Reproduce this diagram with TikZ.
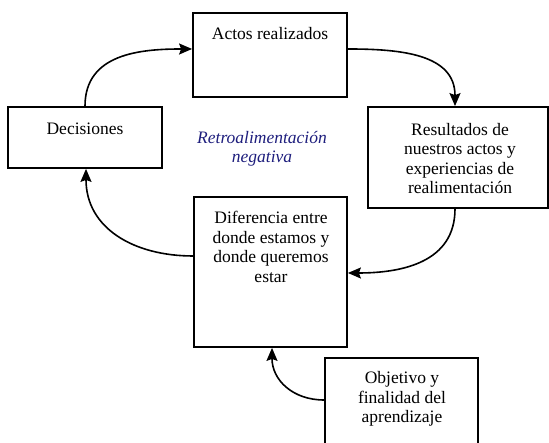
\documentclass[tikz,border=0pt]{standalone}
\usepackage{fontspec}
\setmainfont{Liberation Serif}
\usetikzlibrary{arrows.meta}
\definecolor{navyt}{RGB}{30,30,125}
\begin{document}
\begin{tikzpicture}[x=1pt,y=1pt,
  box/.style={draw=black,line width=1.8pt,rectangle,inner sep=0pt},
  txt/.style={align=center,inner sep=0pt,font=\fontsize{17.5}{19.5}\selectfont},
  conn/.style={line width=1.6pt,-{Stealth[length=13pt,width=11pt,inset=2pt]}}]
\useasboundingbox (0,0) rectangle (549,443);
% boxes
\node[box,minimum width=154pt,minimum height=84pt] (act) at (270,388) {};
\node[box,minimum width=154pt,minimum height=61pt] (dec) at (85,305.5) {};
\node[box,minimum width=180pt,minimum height=101pt] (res) at (458,285.5) {};
\node[box,minimum width=153pt,minimum height=150pt] (dif) at (270.5,171) {};
\node[box,minimum width=153pt,minimum height=92pt] (obj) at (401.5,39) {};
% texts
\node[txt] (actT) at (270,409) {Actos realizados};
\node[txt] (decT) at (85,314) {Decisiones};
\node[txt] (resT) at (460,284.5) {Resultados de\\nuestros actos y\\experiencias de\\realimentación};
\node[txt] (difT) at (271,196) {Diferencia entre\\donde estamos y\\donde queremos\\estar};
\node[txt] (objT) at (402,44) {Objetivo y\\finalidad del\\aprendizaje};
\node[txt,text=navyt,font=\fontsize{17.5}{19.5}\selectfont\itshape] (retro) at (262,294) {Retroalimentación\\negativa};
% connectors
\draw[conn] (dec.north) to[out=90,in=180,looseness=1.1] ([yshift=6pt]act.west);
\draw[conn] ([yshift=6pt]act.east) to[out=0,in=90,looseness=1.1] ([xshift=-3pt]res.north);
\draw[conn] ([xshift=-3pt]res.south) to[out=-90,in=0,looseness=1.1] ([yshift=-1pt]dif.east);
\draw[conn] ([yshift=16pt]dif.west) to[out=180,in=-90,looseness=1.1] ([xshift=1pt]dec.south);
\draw[conn] ([yshift=4pt]obj.west) to[out=180,in=-90,looseness=1.1] ([xshift=1.5pt]dif.south);
\end{tikzpicture}
\end{document}
